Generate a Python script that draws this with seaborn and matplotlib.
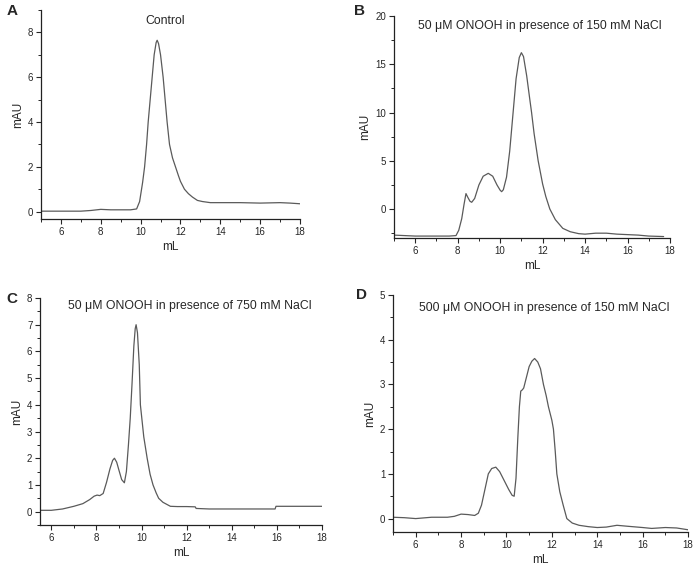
import matplotlib
matplotlib.use("Agg")
import matplotlib.pyplot as plt
import seaborn as sns
import pandas as pd
from matplotlib.ticker import MultipleLocator

sns.set_style("ticks")
plt.rcParams['font.family'] = ['Liberation Sans', 'DejaVu Sans']

# Panel A: Control
a_x = [5.0, 6.0, 7.0, 7.5, 8.0, 8.5, 9.0, 9.5, 9.8, 9.95, 10.1, 10.2, 10.3, 10.38, 10.48, 10.58,
       10.68, 10.78, 10.83, 10.9, 11.0, 11.13, 11.23, 11.33, 11.45, 11.6, 11.75, 11.9, 12.0,
       12.2, 12.4, 12.6, 12.85, 13.1, 13.5, 14.0, 15.0, 16.0, 17.0, 17.5, 18.0]
a_y = [0.02, 0.02, 0.02, 0.05, 0.1, 0.08, 0.08, 0.08, 0.12, 0.45, 1.3, 2.0, 3.0, 4.0, 5.0, 6.0,
       7.0, 7.55, 7.65, 7.5, 7.0, 6.0, 5.0, 4.0, 3.0, 2.4, 2.0, 1.6, 1.35,
       1.0, 0.8, 0.65, 0.5, 0.45, 0.4, 0.4, 0.4, 0.38, 0.4, 0.38, 0.35]

# Panel B: 50 uM ONOOH, 150 mM NaCl
b_x = [5.0, 6.0, 7.0, 7.6, 7.92, 8.05, 8.19, 8.3, 8.39, 8.48, 8.58, 8.66, 8.8, 9.0, 9.2, 9.44,
       9.65, 9.85, 10.0, 10.07, 10.15, 10.3, 10.45, 10.61, 10.75, 10.9, 11.0, 11.1, 11.25, 11.4,
       11.48, 11.6, 11.79, 12.0, 12.15, 12.34, 12.6, 12.95, 13.3, 13.7, 14.0, 14.5, 15.0, 15.5,
       16.0, 16.5, 17.0, 17.7]
b_y = [-2.7, -2.8, -2.8, -2.8, -2.75, -2.2, -1.0, 0.5, 1.6, 1.2, 0.8, 0.7, 1.1, 2.5, 3.4, 3.7,
       3.4, 2.5, 1.95, 1.8, 2.0, 3.3, 6.0, 10.0, 13.5, 15.7, 16.2, 15.8, 13.8, 11.3,
       10.0, 7.8, 5.0, 2.6, 1.3, 0.0, -1.1, -2.0, -2.35, -2.55, -2.6, -2.5, -2.5, -2.6,
       -2.65, -2.7, -2.8, -2.85]

# Panel C: 50 uM ONOOH, 750 mM NaCl
c_x = [5.5, 6.0, 6.5, 7.0, 7.4, 7.7, 7.9, 8.03, 8.15, 8.3, 8.45, 8.6, 8.72, 8.8, 8.9, 9.0,
       9.12, 9.24, 9.33, 9.42, 9.5, 9.58, 9.66, 9.72, 9.76, 9.82, 9.9, 9.95, 10.1, 10.25, 10.38,
       10.51, 10.65, 10.76, 10.95, 11.28, 11.6, 12.0, 12.38, 12.42, 13.0, 14.0, 15.0, 15.92,
       15.96, 17.0, 18.0]
c_y = [0.05, 0.05, 0.1, 0.2, 0.3, 0.45, 0.58, 0.62, 0.6, 0.68, 1.1, 1.6, 1.92, 2.0, 1.85, 1.55,
       1.2, 1.08, 1.5, 2.5, 3.5, 4.8, 6.2, 6.85, 7.0, 6.7, 5.5, 4.0, 2.8, 2.0, 1.4,
       1.0, 0.7, 0.5, 0.35, 0.2, 0.19, 0.19, 0.18, 0.12, 0.1, 0.1, 0.1, 0.1,
       0.2, 0.2, 0.2]

# Panel D: 500 uM ONOOH, 150 mM NaCl
d_x = [5.0, 5.5, 6.0, 6.7, 7.4, 7.7, 8.0, 8.3, 8.6, 8.76, 8.9, 9.05, 9.2, 9.35, 9.53, 9.7,
       9.9, 10.1, 10.25, 10.34, 10.42, 10.5, 10.57, 10.63, 10.7, 10.76, 10.85, 11.0, 11.12,
       11.24, 11.38, 11.5, 11.63, 11.75, 11.85, 12.0, 12.07, 12.15, 12.22, 12.35, 12.5, 12.66,
       12.9, 13.2, 13.6, 14.0, 14.4, 14.87, 15.3, 16.0, 16.4, 17.0, 17.5, 18.0]
d_y = [0.03, 0.02, 0.0, 0.03, 0.03, 0.05, 0.1, 0.09, 0.07, 0.12, 0.3, 0.65, 1.0, 1.12, 1.15, 1.05,
       0.85, 0.65, 0.52, 0.5, 0.9, 1.8, 2.5, 2.85, 2.88, 2.92, 3.1, 3.4, 3.52,
       3.58, 3.5, 3.35, 3.0, 2.75, 2.5, 2.2, 2.0, 1.5, 1.0, 0.6, 0.3, 0.0,
       -0.1, -0.15, -0.18, -0.2, -0.19, -0.15, -0.17, -0.2, -0.22, -0.2, -0.21, -0.25]

titles = ["Control",
          "50 \u03bcM ONOOH in presence of 150 mM NaCl",
          "50 \u03bcM ONOOH in presence of 750 mM NaCl",
          "500 \u03bcM ONOOH in presence of 150 mM NaCl"]

W, H = 697, 571
fig = plt.figure(figsize=(W / 100, H / 100), dpi=100)

def px_axes(l, t, r, b):
    return fig.add_axes([l / W, 1 - b / H, (r - l) / W, (b - t) / H])

panels = [
    dict(rect=(41, 10, 300, 219), x=a_x, y=a_y, xlim=(5, 18), ylim=(-0.33, 9), ymaj=2, ymin=1,
         title=titles[0], tpos=(0.48, 0.947), letter="A", lpos=(7, 4)),
    dict(rect=(394, 16, 670, 238), x=b_x, y=b_y, xlim=(5, 18), ylim=(-3, 20), ymaj=5, ymin=2.5,
         title=titles[1], tpos=(0.529, 0.956), letter="B", lpos=(354, 4)),
    dict(rect=(40, 298, 322, 525), x=c_x, y=c_y, xlim=(5.5, 18), ylim=(-0.5, 8), ymaj=1, ymin=0.5,
         title=titles[2], tpos=(0.532, 0.965), letter="C", lpos=(6, 292)),
    dict(rect=(393, 295, 688, 532), x=d_x, y=d_y, xlim=(5, 18), ylim=(-0.3, 5), ymaj=1, ymin=0.5,
         title=titles[3], tpos=(0.514, 0.944), letter="D", lpos=(356, 288)),
]

for p in panels:
    ax = px_axes(*p["rect"])
    df = pd.DataFrame({"mL": p["x"], "mAU": p["y"]})
    sns.lineplot(data=df, x="mL", y="mAU", ax=ax, color="#5a5a5a", linewidth=0.9, sort=False)
    ax.set_xlim(*p["xlim"])
    ax.set_ylim(*p["ylim"])
    ax.xaxis.set_major_locator(MultipleLocator(2))
    ax.xaxis.set_minor_locator(MultipleLocator(1))
    ax.yaxis.set_major_locator(MultipleLocator(p["ymaj"]))
    ax.yaxis.set_minor_locator(MultipleLocator(p["ymin"]))
    ax.tick_params(which="major", length=3.5, width=0.8, labelsize=7, direction="out", pad=2)
    ax.tick_params(which="minor", length=2, width=0.7, direction="out")
    sns.despine(ax=ax)
    for s in ("left", "bottom"):
        ax.spines[s].set_linewidth(0.9)
        ax.spines[s].set_color("#222222")
    ax.set_xlabel("mL", fontsize=8.5, labelpad=3)
    ax.set_ylabel("mAU", fontsize=8.5, labelpad=3)
    ax.text(p["tpos"][0], p["tpos"][1], p["title"], transform=ax.transAxes,
            ha="center", va="center", fontsize=8.8)
    fig.text(p["lpos"][0] / W, 1 - p["lpos"][1] / H, p["letter"], fontsize=11,
             fontweight="bold", ha="left", va="top")

fig.savefig("out.png", dpi=100)
